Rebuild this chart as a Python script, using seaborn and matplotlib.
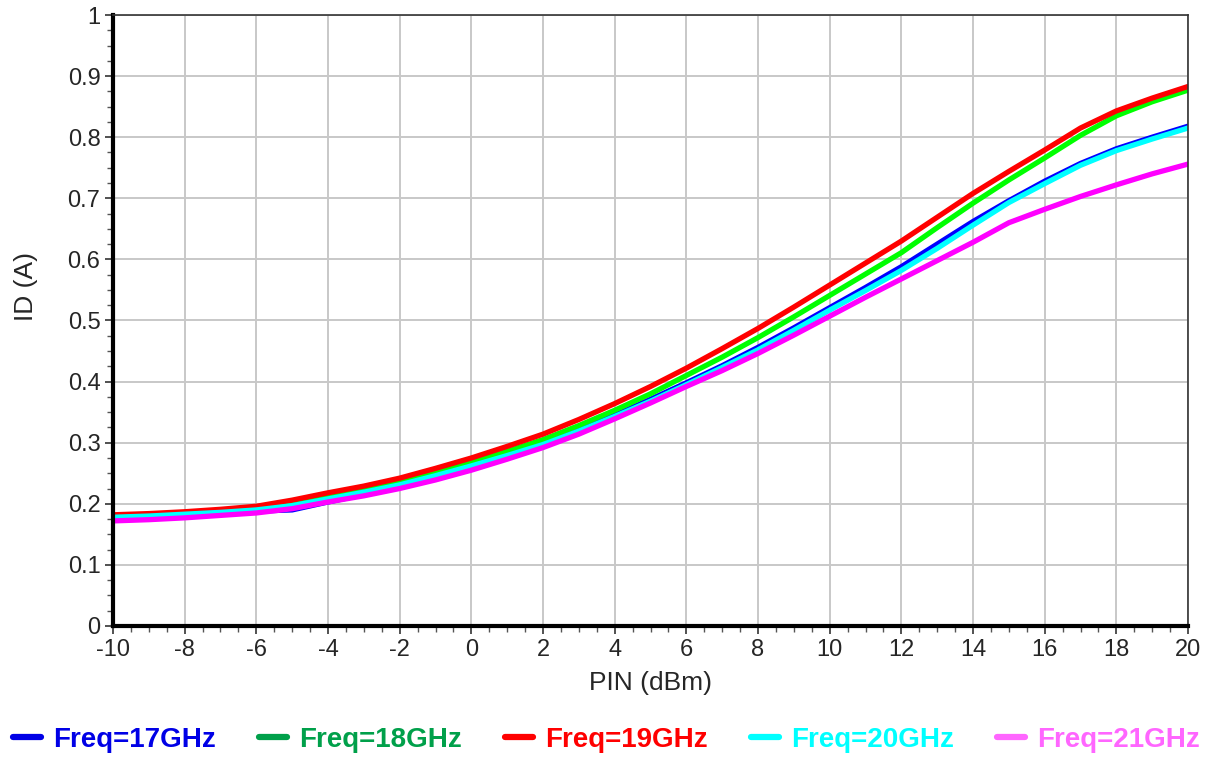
import numpy as np
import pandas as pd
import matplotlib
matplotlib.use("Agg")
import matplotlib.pyplot as plt
from matplotlib.ticker import MultipleLocator, FormatStrFormatter
from matplotlib.lines import Line2D
import seaborn as sns

pin = list(range(-10, 21))
freq_labels = ["Freq=17GHz", "Freq=18GHz", "Freq=19GHz", "Freq=20GHz", "Freq=21GHz"]

id_17 = [.176, .178, .181, .184, .188, .190, .203, .215, .228, .244, .261, .279, .298, .320,
         .345, .371, .398, .426, .456, .488, .521, .554, .588, .625, .662, .696, .728, .757,
         .781, .800, .818]
id_18 = [.179, .181, .184, .188, .193, .202, .214, .224, .236, .251, .268, .286, .305, .328,
         .353, .380, .410, .440, .472, .506, .541, .576, .611, .652, .692, .730, .766, .803,
         .835, .858, .877]
id_19 = [.182, .184, .187, .191, .196, .206, .218, .229, .242, .258, .275, .294, .314, .338,
         .364, .392, .422, .454, .487, .522, .558, .594, .630, .669, .708, .744, .779, .815,
         .843, .864, .883]
id_20 = [.178, .180, .183, .186, .190, .197, .208, .219, .231, .246, .262, .279, .297, .319,
         .343, .368, .395, .423, .452, .484, .517, .549, .582, .618, .656, .693, .724, .754,
         .778, .797, .815]
id_21 = [.172, .174, .177, .181, .185, .192, .203, .213, .225, .239, .255, .273, .292, .314,
         .339, .365, .392, .418, .446, .476, .507, .538, .568, .598, .628, .660, .682, .703,
         .722, .740, .756]

series = [id_17, id_18, id_19, id_20, id_21]
line_colors = ["#0000FF", "#00FF00", "#FF0000", "#00FFFF", "#FF00FF"]
legend_colors = ["#0000E6", "#00A04A", "#FF0000", "#00FFFF", "#FF66FF"]

df = pd.concat([pd.DataFrame({"PIN": pin, "ID": s, "Freq": lab})
                for s, lab in zip(series, freq_labels)], ignore_index=True)

sns.set_theme(style="white")
plt.rcParams["font.family"] = ["Liberation Sans", "DejaVu Sans"]

fig = plt.figure(figsize=(12.13, 7.57), dpi=100)
ax = fig.add_axes([113/1213, 1 - 626/757, (1188-113)/1213, (626-15)/757])

sns.lineplot(data=df, x="PIN", y="ID", hue="Freq", hue_order=freq_labels,
             palette=line_colors, linewidth=3.8, ax=ax, legend=False, sort=False)

ax.set_xlim(-10, 20)
ax.set_ylim(0, 1)
ax.xaxis.set_major_locator(MultipleLocator(2))
ax.xaxis.set_minor_locator(MultipleLocator(0.5))
ax.yaxis.set_major_locator(MultipleLocator(0.1))
ax.yaxis.set_minor_locator(MultipleLocator(0.025))
ax.yaxis.set_major_formatter(FormatStrFormatter("%g"))
ax.xaxis.set_major_formatter(FormatStrFormatter("%g"))

ax.grid(True, which="major", color="#C8C8C8", linewidth=1.4)
ax.set_axisbelow(True)
ax.tick_params(axis="both", which="major", direction="out", length=6, width=1.2,
               color="#333333", labelsize=17, bottom=True, left=True, pad=3)
ax.tick_params(axis="both", which="minor", direction="out", length=4, width=1.0,
               color="#555555", bottom=True, left=True)

for side in ["left", "bottom"]:
    ax.spines[side].set_color("black")
    ax.spines[side].set_linewidth(3)
for side in ["top", "right"]:
    ax.spines[side].set_color("#333333")
    ax.spines[side].set_linewidth(1.2)

ax.set_xlabel("PIN (dBm)", fontsize=19)
ax.set_ylabel("ID (A)", fontsize=19)
ax.xaxis.set_label_coords(0.5, -0.073)
ax.yaxis.set_label_coords(-0.07, 0.555)

handles = [Line2D([0], [0], color=c, linewidth=4.5) for c in legend_colors]
leg = fig.legend(handles, freq_labels, loc="center", bbox_to_anchor=(0.5, 1 - 740/757),
                 ncol=5, frameon=False, handlelength=1.0, handletextpad=0.45,
                 columnspacing=1.55, prop={"weight": "bold", "size": 20})
for t, c in zip(leg.get_texts(), legend_colors):
    t.set_color(c)

fig.savefig("out.png", dpi=100, facecolor="white")
